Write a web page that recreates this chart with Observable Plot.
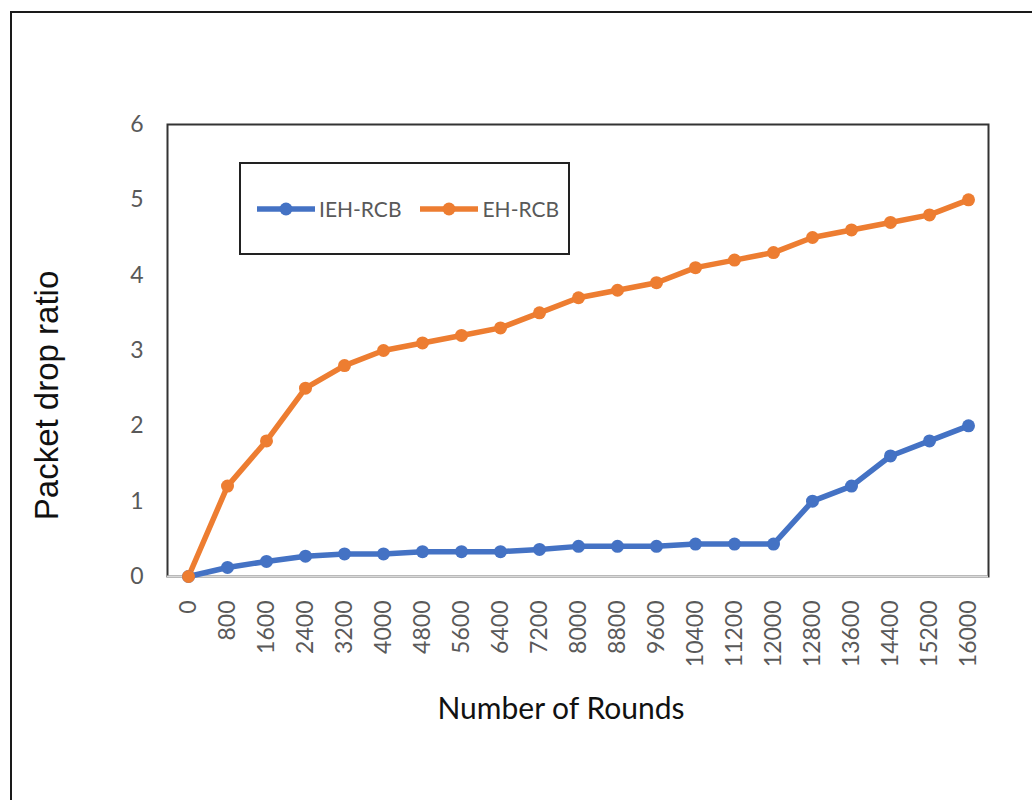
<!DOCTYPE html>
<html>
<head>
<meta charset="utf-8">
<script src="https://cdn.jsdelivr.net/npm/d3@7"></script>
<script src="https://cdn.jsdelivr.net/npm/@observablehq/plot@0.6"></script>
<style>
  html, body { margin: 0; padding: 0; background: #fff; }
  #wrap { position: relative; width: 1032px; height: 800px; overflow: hidden; background: #fff; }
  #border { position: absolute; left: 10px; top: 11px; width: 1100px; height: 900px;
            border-left: 2px solid #1a1a1a; border-top: 2px solid #1a1a1a; pointer-events: none; }
  #chart { position: absolute; left: 0; top: 0; }
  #legend { position: absolute; left: 239px; top: 162px; width: 331px; height: 93px;
            box-sizing: border-box; border: 2px solid #222; background: #fff;
            display: flex; align-items: center; padding-left: 16px; white-space: nowrap;
            font-family: Lato, sans-serif; font-size: 21px; color: #595959; }
  .item { display: flex; align-items: center; margin-right: 19px; }
  .item svg { margin-right: 4px; flex: none; }
</style>
</head>
<body>
<div id="wrap">
  <div id="chart"></div>
  <div id="legend"></div>
  <div id="border"></div>
</div>
<script>
// Simulation rounds on the x axis
const rounds = [0, 800, 1600, 2400, 3200, 4000, 4800, 5600, 6400, 7200, 8000,
                8800, 9600, 10400, 11200, 12000, 12800, 13600, 14400, 15200, 16000];
// Packet drop ratio per protocol
const iehRcb = [0, 0.12, 0.2, 0.27, 0.3, 0.3, 0.33, 0.33, 0.33, 0.36, 0.4,
                0.4, 0.4, 0.43, 0.43, 0.43, 1.0, 1.2, 1.6, 1.8, 2.0];
const ehRcb = [0, 1.2, 1.8, 2.5, 2.8, 3.0, 3.1, 3.2, 3.3, 3.5, 3.7,
               3.8, 3.9, 4.1, 4.2, 4.3, 4.5, 4.6, 4.7, 4.8, 5.0];
const seriesNames = ["IEH-RCB", "EH-RCB"];
const seriesColors = ["#4472C4", "#ED7D31"];
const yTicks = [0, 1, 2, 3, 4, 5, 6];

const rows = [
  ...rounds.map((r, i) => ({round: r, value: iehRcb[i], series: seriesNames[0]})),
  ...rounds.map((r, i) => ({round: r, value: ehRcb[i], series: seriesNames[1]}))
];

const chart = Plot.plot({
  width: 1032,
  height: 800,
  marginLeft: 167,
  marginRight: 44,
  marginTop: 124,
  marginBottom: 224,
  style: {fontFamily: "Lato, sans-serif", background: "transparent"},
  x: {type: "point", domain: rounds, padding: 0.5},
  y: {domain: [0, 6]},
  color: {domain: seriesNames, range: seriesColors},
  marks: [
    Plot.axisY({ticks: yTicks, tickFormat: d => String(d), tickSize: 0, tickPadding: 24,
      fontSize: 23, color: "#595959", label: null}),
    Plot.axisX({tickFormat: d => String(d), tickRotate: -90, tickSize: 0, tickPadding: 24,
      fontSize: 23, color: "#595959", label: null}),
    Plot.frame({stroke: "#333", strokeWidth: 2}),
    Plot.ruleY([0], {stroke: "#d9d9d9", strokeWidth: 2}),
    Plot.line(rows, {x: "round", y: "value", z: "series", stroke: "series", strokeWidth: 5.5}),
    Plot.dot(rows, {x: "round", y: "value", fill: "series", r: 6.5}),
    Plot.text(["Packet drop ratio"], {text: d => d, frameAnchor: "left", textAnchor: "middle",
      dx: -120, dy: 45, rotate: -90,
      fontSize: 33, fontFamily: "Liberation Sans, Arial, sans-serif", fill: "#111"}),
    Plot.text(["Number of Rounds"], {text: d => d, frameAnchor: "bottom", dx: -17, dy: 142,
      fontSize: 30, fill: "#111"})
  ]
});
document.getElementById("chart").appendChild(chart);

// Legend: line-and-marker sample followed by the series name
const legend = document.getElementById("legend");
seriesNames.forEach((name, i) => {
  const item = document.createElement("div");
  item.className = "item";
  const ns = "http://www.w3.org/2000/svg";
  const svg = document.createElementNS(ns, "svg");
  svg.setAttribute("width", 58);
  svg.setAttribute("height", 16);
  const ln = document.createElementNS(ns, "line");
  ln.setAttribute("x1", 0); ln.setAttribute("x2", 58);
  ln.setAttribute("y1", 8); ln.setAttribute("y2", 8);
  ln.setAttribute("stroke", seriesColors[i]);
  ln.setAttribute("stroke-width", 5.5);
  const c = document.createElementNS(ns, "circle");
  c.setAttribute("cx", 29); c.setAttribute("cy", 8); c.setAttribute("r", 6.5);
  c.setAttribute("fill", seriesColors[i]);
  svg.appendChild(ln); svg.appendChild(c);
  const label = document.createElement("span");
  label.textContent = name;
  item.appendChild(svg); item.appendChild(label);
  legend.appendChild(item);
});
</script>
</body>
</html>
